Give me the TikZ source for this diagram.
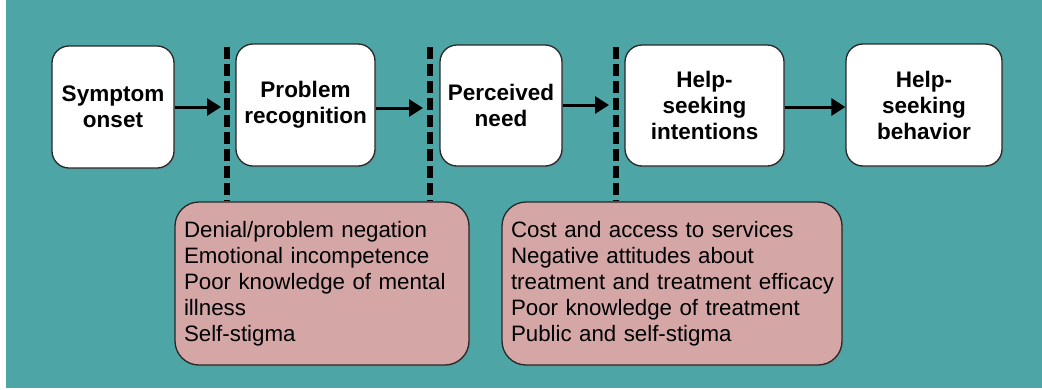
\documentclass[tikz,border=0pt]{standalone}
\usepackage{fontspec}
\setmainfont{Liberation Sans}
\usetikzlibrary{arrows.meta,shadows}
\definecolor{teal}{RGB}{77,165,166}
\definecolor{pinkbox}{RGB}{212,166,166}
\definecolor{edge}{RGB}{40,40,40}
\tikzset{
  stage/.style={draw=edge, line width=1.3pt, fill=white, rounded corners=17pt,
    font=\bfseries\fontsize{22.5}{26}\selectfont, align=center, inner sep=0pt,
    drop shadow={shadow xshift=1.5pt, shadow yshift=-1.5pt, opacity=0.35}},
  barrier/.style={draw=edge, line width=1.3pt, fill=pinkbox, rounded corners=24pt,
    font=\fontsize{22.3}{26}\selectfont, align=left, inner xsep=9pt, inner ysep=0pt,
    drop shadow={shadow xshift=1.5pt, shadow yshift=-1.5pt, opacity=0.35}},
  flow/.style={line width=3pt, -{Triangle[length=14pt,width=17pt]}},
  divider/.style={line width=5.5pt, dash pattern=on 12pt off 5pt},
}
\begin{document}
\begin{tikzpicture}[x=1pt,y=-1pt]
\useasboundingbox (0,0) rectangle (1042,389);
\fill[teal] (6,0) rectangle (1042,388);
% stages
\node[stage, minimum width=122pt, minimum height=122pt] (s1) at (113,107) {Symptom\\onset};
\node[stage, minimum width=139pt, minimum height=122pt] (s2) at (305.5,105) {Problem\\recognition};
\node[stage, minimum width=122pt, minimum height=121pt] (s3) at (501,105.5) {Perceived\\need};
\node[stage, minimum width=159pt, minimum height=121pt] (s4) at (704.5,105.5) {Help-\\seeking\\intentions};
\node[stage, minimum width=156pt, minimum height=122pt] (s5) at (924,105) {Help-\\seeking\\behavior};
% barriers
\node[barrier, text width=276pt, minimum height=163pt] (b1) at (322,283.5)
  {Denial/problem negation\\Emotional incompetence\\Poor knowledge of mental\\illness\\Self-stigma};
\node[barrier, text width=322pt, minimum height=163pt] (b2) at (672,283.5)
  {Cost and access to services\\Negative attitudes about\\\mbox{treatment and treatment efficacy}\\Poor knowledge of treatment\\Public and self-stigma};
% dividers
\coordinate (d1) at (227,47);
\coordinate (d2) at (430,47);
\coordinate (d3) at (616,47);
\draw[divider] (d1) -- (d1 |- b1.north);
\draw[divider] (d2) -- (d2 |- b1.north);
\draw[divider] (d3) -- (d3 |- b2.north);
% arrows
\coordinate (a1) at (221,107);
\coordinate (a2) at (423,108);
\coordinate (a3) at (609,105);
\draw[flow] (s1.east |- a1) -- (a1);
\draw[flow] (s2.east |- a2) -- (a2);
\draw[flow] (s3.east |- a3) -- (a3);
\draw[flow] (s4.east |- 0,107) -- (s5.west |- 0,107);
\end{tikzpicture}
\end{document}
